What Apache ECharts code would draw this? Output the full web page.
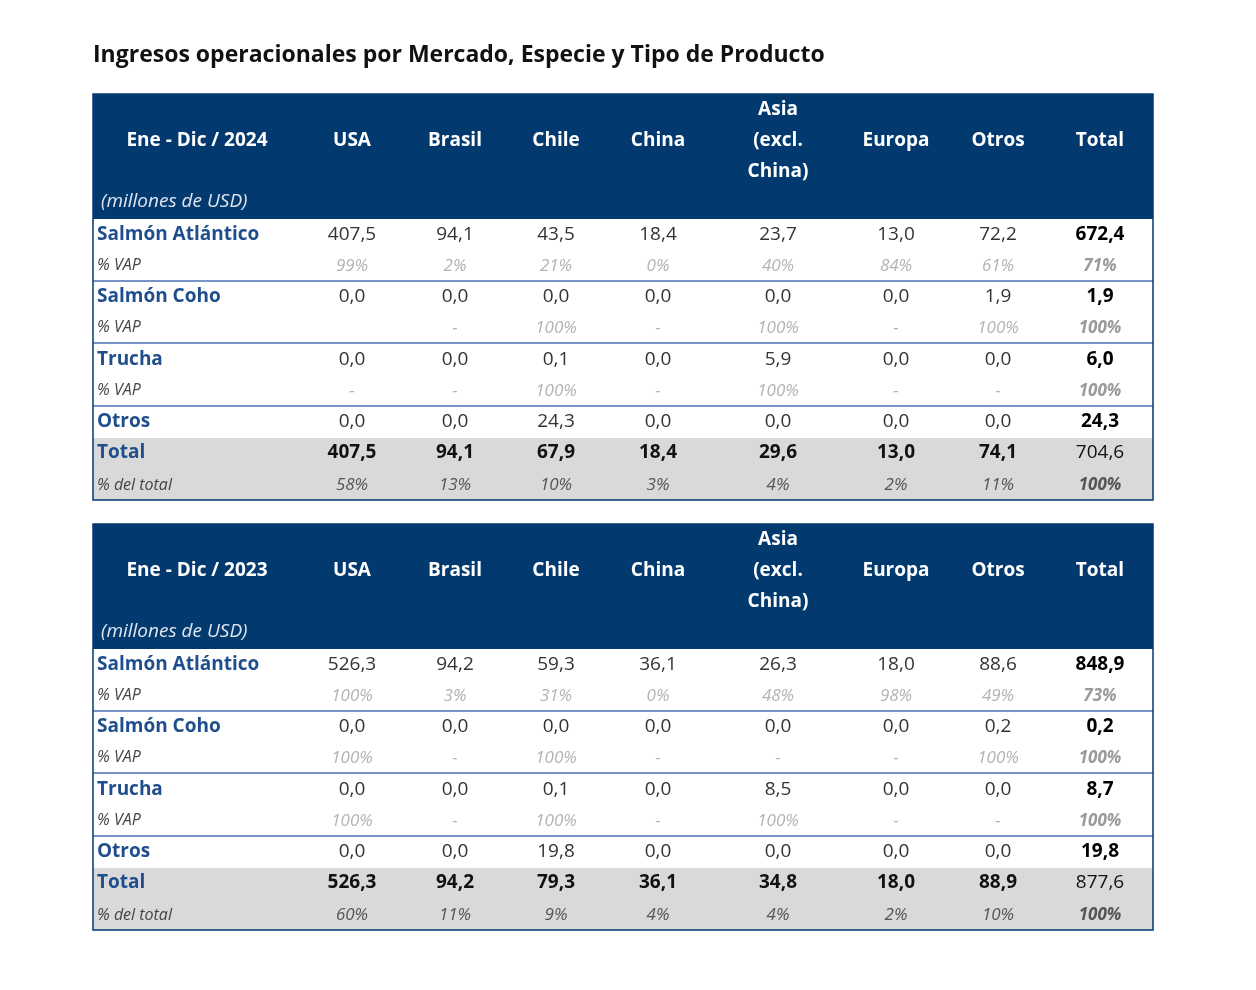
<!DOCTYPE html>
<html><head><meta charset="utf-8">
<script src="https://cdn.jsdelivr.net/npm/echarts@6/dist/echarts.min.js"></script>
<style>html,body{margin:0;background:#fff}#c{width:1256px;height:990px}</style>
</head><body><div id="c"></div>
<script>
const title = "Ingresos operacionales por Mercado, Especie y Tipo de Producto";
const columns = ["USA","Brasil","Chile","China","Asia\n(excl.\nChina)","Europa","Otros","Total"];
const species = ["Salmón Atlántico","Salmón Coho","Trucha","Otros"];
const periods = ["Ene - Dic / 2024","Ene - Dic / 2023"];
// 2024
const v2024 = [
  ["407,5","94,1","43,5","18,4","23,7","13,0","72,2","672,4"],
  ["0,0","0,0","0,0","0,0","0,0","0,0","1,9","1,9"],
  ["0,0","0,0","0,1","0,0","5,9","0,0","0,0","6,0"],
  ["0,0","0,0","24,3","0,0","0,0","0,0","0,0","24,3"]
];
const vap2024 = [
  ["99%","2%","21%","0%","40%","84%","61%","71%"],
  ["","-","100%","-","100%","-","100%","100%"],
  ["-","-","100%","-","100%","-","-","100%"]
];
const tot2024 = ["407,5","94,1","67,9","18,4","29,6","13,0","74,1","704,6"];
const pct2024 = ["58%","13%","10%","3%","4%","2%","11%","100%"];
// 2023
const v2023 = [
  ["526,3","94,2","59,3","36,1","26,3","18,0","88,6","848,9"],
  ["0,0","0,0","0,0","0,0","0,0","0,0","0,2","0,2"],
  ["0,0","0,0","0,1","0,0","8,5","0,0","0,0","8,7"],
  ["0,0","0,0","19,8","0,0","0,0","0,0","0,0","19,8"]
];
const vap2023 = [
  ["100%","3%","31%","0%","48%","98%","49%","73%"],
  ["100%","-","100%","-","-","-","100%","100%"],
  ["100%","-","100%","-","100%","-","-","100%"]
];
const tot2023 = ["526,3","94,2","79,3","36,1","34,8","18,0","88,9","877,6"];
const pct2023 = ["60%","11%","9%","4%","4%","2%","10%","100%"];

const F = "'Open Sans', sans-serif";
const NAVY = "#023a6f", BLUE = "#1f4e8c";
const colX = [352,455,556,658,778,896,998,1100];
const L = 93, R = 1153;
const els = [];
function txt(x,y,s,o){els.push({type:'text',x,y,style:Object.assign({text:s,font:'19px '+F,fill:'#222',textAlign:'center',textVerticalAlign:'middle'},o||{})});}
els.push({type:'text',x:93,y:55,style:{text:title,font:'bold 23px '+F,fill:'#111',textVerticalAlign:'middle'}});
function table(top, period, vals, vaps, tot, pct){
  els.push({type:'rect',shape:{x:L,y:top,width:R-L,height:125},style:{fill:NAVY}});
  txt(197,top+47,period,{font:'bold 19px '+F,fill:'#fff'});
  txt(101,top+108,'(millones de USD)',{font:'italic 19px '+F,fill:'#e0e6ef',textAlign:'left'});
  columns.forEach((c,i)=>{txt(colX[i],top+47,c,{font:'bold 19px '+F,fill:'#fff',lineHeight:31});});
  els.push({type:'rect',shape:{x:L,y:top+344,width:R-L,height:62},style:{fill:'#d9d9d9'}});
  const rowY=[141,203,266,328];
  species.forEach((s,r)=>{
    const y=top+rowY[r];
    txt(97,y,s,{font:'bold 19px '+F,fill:BLUE,textAlign:'left'});
    vals[r].forEach((v,i)=>txt(colX[i],y,v,{font:(i==7?'bold ':'')+'19px '+F,fill:i==7?'#000':'#333'}));
    if(r<3){
      txt(97,y+30,'% VAP',{font:'italic 16px '+F,fill:'#444',textAlign:'left'});
      vaps[r].forEach((v,i)=>txt(colX[i],y+31,v,{font:(i==7?'bold ':'')+'italic 17px '+F,fill:i==7?'#9a9a9a':'#b3b3b3'}));
      els.push({type:'line',shape:{x1:L,y1:y+46,x2:R,y2:y+46},style:{stroke:'#4a6fb5',lineWidth:1.5}});
    }
  });
  const ty=top+359;
  txt(97,ty,'Total',{font:'bold 19px '+F,fill:BLUE,textAlign:'left'});
  tot.forEach((v,i)=>txt(colX[i],ty,v,{font:(i==7?'':'bold ')+'19px '+F,fill:'#111'}));
  txt(97,ty+32,'% del total',{font:'italic 16px '+F,fill:'#444',textAlign:'left'});
  pct.forEach((v,i)=>txt(colX[i],ty+32,v,{font:(i==7?'bold ':'')+'italic 17px '+F,fill:'#555'}));
  els.push({type:'rect',shape:{x:L,y:top,width:R-L,height:406},style:{fill:'none',stroke:NAVY,lineWidth:1.5}});
}
table(94,periods[0],v2024,vap2024,tot2024,pct2024);
table(524,periods[1],v2023,vap2023,tot2023,pct2023);
const chart = echarts.init(document.getElementById('c'));
chart.setOption({animation:false,graphic:{elements:els}});
</script></body></html>
